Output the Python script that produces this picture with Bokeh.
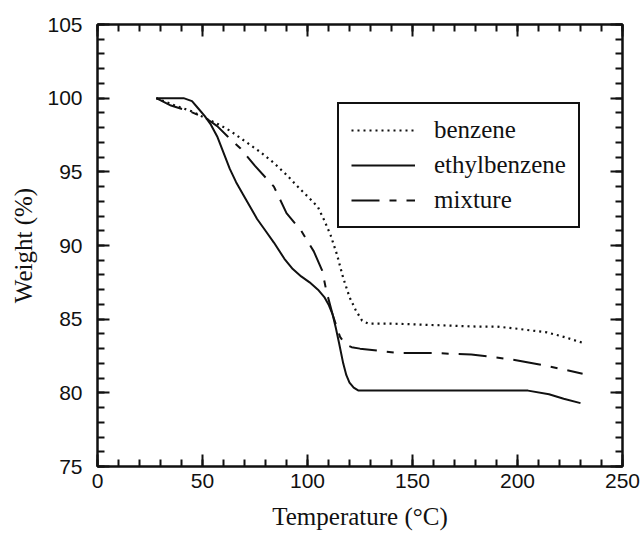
from bokeh.plotting import figure
from bokeh.models import (Range1d, LinearAxis, SingleIntervalTicker, Legend, LegendItem,
                          CustomJSTickFormatter)
from bokeh.embed import file_html
from bokeh.resources import INLINE

# ---- data ----
temp_benzene = [28, 35, 45, 52, 58, 63, 70, 77, 84, 90, 96, 101, 105, 108, 111, 114, 117,
                120, 123, 126, 129, 140, 160, 180, 190, 200, 214, 222, 231]
w_benzene = [100.0, 99.6, 99.1, 98.6, 98.2, 97.8, 97.1, 96.4, 95.6, 94.8, 93.9, 93.2, 92.6,
             91.7, 90.7, 89.4, 87.8, 86.5, 85.6, 84.9, 84.7, 84.7, 84.6, 84.5, 84.5, 84.35,
             84.1, 83.8, 83.4]

temp_ethyl = [28, 35, 41, 45, 48, 51, 54, 57, 60, 63, 66, 70, 76, 80, 84, 89, 93, 97, 101,
              105, 108, 110, 112, 113.5, 115, 117, 118.5, 120, 122, 124.3, 150, 180, 205,
              215, 222, 230]
w_ethyl = [100.0, 100.0, 100.0, 99.8, 99.3, 98.8, 98.2, 97.4, 96.3, 95.2, 94.3, 93.3, 91.8,
           91.0, 90.2, 89.1, 88.4, 87.9, 87.5, 87.0, 86.5, 86.0, 85.3, 84.4, 83.4, 82.0,
           81.2, 80.7, 80.35, 80.15, 80.15, 80.15, 80.15, 79.9, 79.6, 79.3]

temp_mix = [28, 35, 44, 52, 57, 62, 68, 75, 84, 90, 97, 103, 107, 109, 112, 115.5, 118, 121,
            125, 143, 160, 178, 190, 200, 215, 231]
w_mix = [100.0, 99.5, 99.1, 98.6, 98.1, 97.4, 96.6, 95.4, 94.0, 92.2, 91.0, 89.6, 88.3,
         86.9, 85.3, 83.8, 83.3, 83.1, 83.0, 82.7, 82.7, 82.6, 82.4, 82.2, 81.8, 81.3]

series_names = ["benzene", "ethylbenzene", "mixture"]
x_ticks_interval = 50
y_ticks_interval = 5

INK = "#111111"
SERIF = "Liberation Serif"
SANS = "Liberation Sans"

p = figure(width=643, height=538, output_backend="svg", toolbar_location=None,
           x_range=Range1d(0, 250), y_range=Range1d(75, 105),
           min_border_left=97, min_border_right=21, min_border_top=24, min_border_bottom=72,
           x_axis_label="Temperature (°C)", y_axis_label="Weight (%)")
p.background_fill_color = "white"
p.border_fill_color = "white"
p.outline_line_color = INK
p.outline_line_width = 2
p.xgrid.visible = False
p.ygrid.visible = False


def style_axis(ax, ticker, show_labels):
    ax.ticker = ticker
    ax.axis_line_color = INK
    ax.axis_line_width = 2
    ax.major_tick_line_color = INK
    ax.minor_tick_line_color = INK
    ax.major_tick_line_width = 2
    ax.minor_tick_line_width = 2
    ax.major_tick_in = 12
    ax.major_tick_out = 0
    ax.minor_tick_in = 7
    ax.minor_tick_out = 0
    if show_labels:
        ax.major_label_text_font = SANS
        ax.major_label_text_font_size = "21px"
        ax.major_label_text_color = INK
        ax.axis_label_text_font = SERIF
        ax.axis_label_text_font_size = "25px"
        ax.axis_label_text_font_style = "normal"
        ax.axis_label_text_color = INK
    else:
        ax.formatter = CustomJSTickFormatter(code="return ''")
        ax.major_label_text_font_size = "1px"
        ax.major_label_standoff = 0


style_axis(p.xaxis[0], SingleIntervalTicker(interval=x_ticks_interval, num_minor_ticks=5), True)
style_axis(p.yaxis[0], SingleIntervalTicker(interval=y_ticks_interval, num_minor_ticks=5), True)
p.xaxis[0].major_label_standoff = 7
p.xaxis[0].axis_label_standoff = 12
p.yaxis[0].major_label_standoff = 15
p.yaxis[0].axis_label_standoff = 7

top_ax = LinearAxis()
style_axis(top_ax, SingleIntervalTicker(interval=x_ticks_interval, num_minor_ticks=5), False)
p.add_layout(top_ax, "above")
right_ax = LinearAxis()
style_axis(right_ax, SingleIntervalTicker(interval=y_ticks_interval, num_minor_ticks=5), False)
p.add_layout(right_ax, "right")

r_b = p.line(temp_benzene, w_benzene, line_color=INK, line_width=2.2, line_dash="2 4")
r_e = p.line(temp_ethyl, w_ethyl, line_color=INK, line_width=2)
r_m = p.line(temp_mix, w_mix, line_color=INK, line_width=2, line_dash="28 10 7 10")

legend = Legend(items=[LegendItem(label=series_names[0], renderers=[r_b]),
                       LegendItem(label=series_names[1], renderers=[r_e]),
                       LegendItem(label=series_names[2], renderers=[r_m])],
                location=(240, 238))
legend.margin = 0
legend.padding = 12
legend.spacing = 7
legend.glyph_width = 64
legend.glyph_height = 28
legend.label_height = 28
legend.label_standoff = 19
legend.label_text_font = SERIF
legend.label_text_font_size = "25px"
legend.label_text_color = INK
legend.border_line_color = INK
legend.border_line_alpha = 1
legend.border_line_width = 2
legend.background_fill_color = "white"
legend.background_fill_alpha = 1
p.add_layout(legend, "center")

open("out.html", "w").write(file_html(p, INLINE))
